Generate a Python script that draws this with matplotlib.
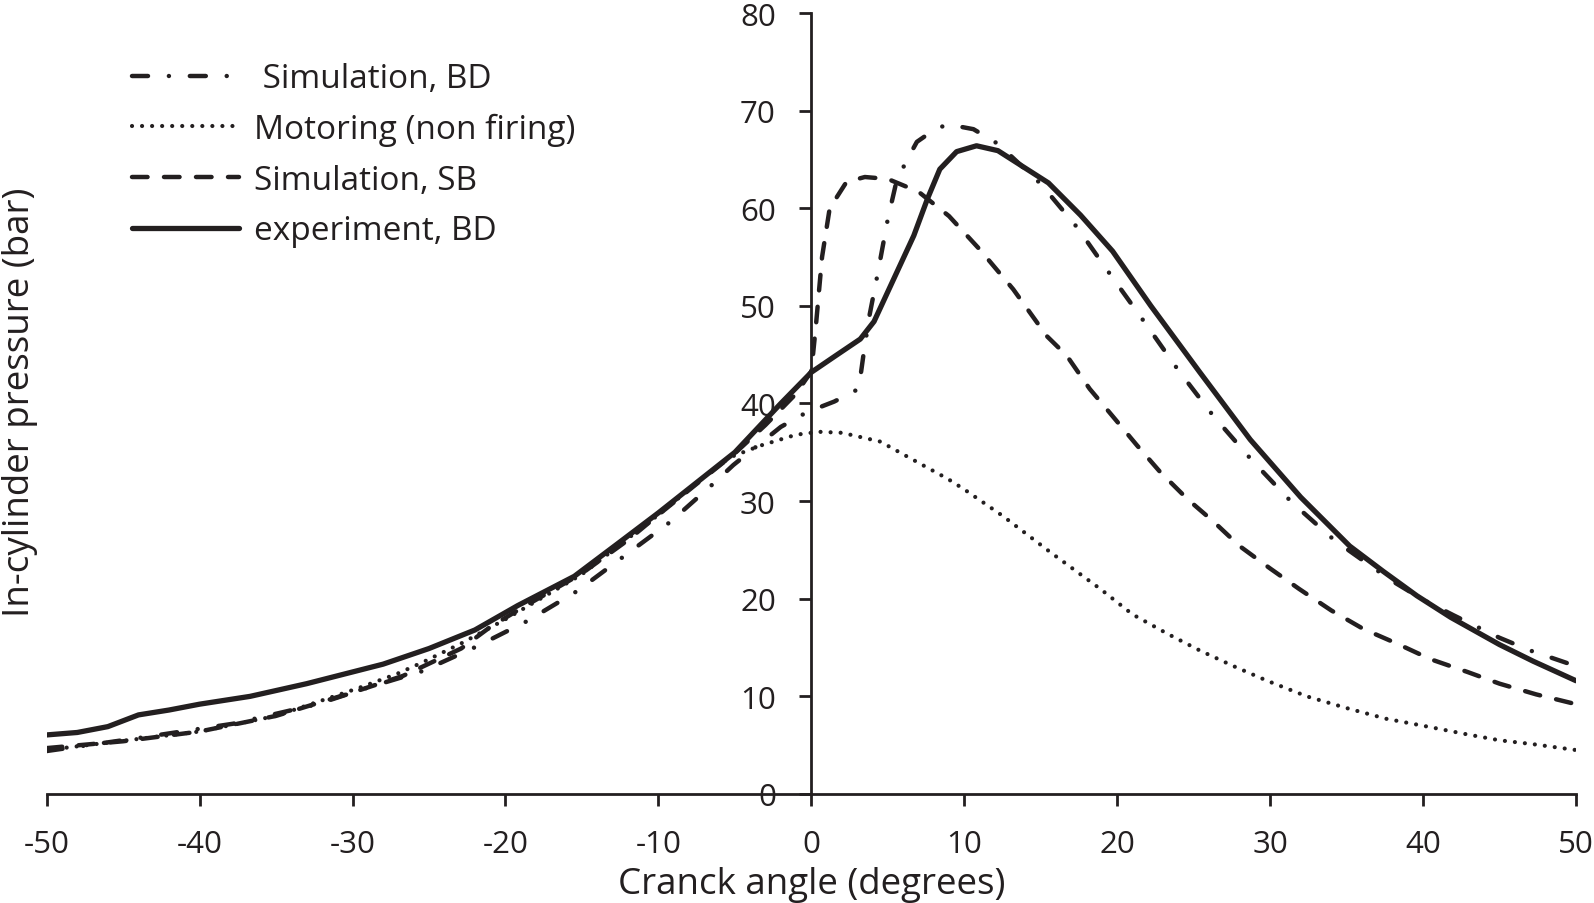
import matplotlib
matplotlib.use("Agg")
import matplotlib.pyplot as plt

# experiment, BD (solid)
exp_angle = [-50, -48, -46, -44, -42, -40, -36.7, -33, -30, -28, -25, -22, -19.2, -15.5,
             -12.7, -10, -7.5, -5, -2, 0, 1.5, 3.2, 4.1, 5.4, 6.7, 7.6, 8.4, 9.5,
             10.8, 12.2, 13.2, 15.5, 17.6, 19.7, 22.2, 25.4, 28.7, 32, 35.2, 37.4,
             39.6, 41.8, 45, 47.2, 50]
exp_pressure = [6.05, 6.3, 6.9, 8.1, 8.6, 9.2, 10.0, 11.3, 12.5, 13.3, 14.9, 16.8, 19.3,
                22.3, 25.6, 28.8, 31.9, 35.0, 40.0, 43.2, 44.8, 46.6, 48.4, 52.8, 57.2,
                61.0, 64.0, 65.8, 66.4, 65.9, 64.9, 62.6, 59.3, 55.6, 50.0, 43.2, 36.3,
                30.4, 25.4, 22.8, 20.3, 18.1, 15.3, 13.6, 11.6]

# Simulation, BD (dash-dot)
bd_angle = [-50, -43.7, -37.8, -32.3, -29, -25.4, -21.9, -18.6, -15.3, -12.3, -9.2,
            -6.4, -5.1, -2, -0.3, 1.5, 3.1, 3.4, 3.8, 4.3, 5, 5.5, 6.1, 6.9, 8, 8.9,
            10.6, 12.2, 15, 17.4, 19.6, 21.8, 24, 26.3, 28.8, 31.4, 34.2, 36, 38, 40,
            42, 45, 47, 50]
bd_pressure = [4.4, 5.8, 7.2, 9.2, 10.9, 12.6, 15.1, 17.7, 20.8, 24.3, 27.9, 31.8, 33.7,
               37.6, 39.1, 40.2, 41.5, 44.9, 49.0, 53.0, 58.9, 62.3, 64.5, 66.8, 68.0,
               68.6, 68.1, 66.6, 62.5, 58.0, 53.1, 48.3, 43.4, 38.7, 34.2, 29.9, 26.0,
               24.0, 21.8, 19.9, 18.3, 16.0, 14.7, 13.1]

# Simulation, SB (dashed)
sb_angle = [-50, -45, -40, -35, -30, -26.7, -22.9, -21, -19, -15, -12, -10, -7, -5, -3,
            -1, 0, 0.3, 0.7, 1.2, 2.3, 3.5, 5, 7, 9, 11, 13.2, 15.4, 16.7, 18.2, 19.7,
            21.3, 22.8, 24.6, 26.3, 28, 30, 31.9, 34, 36.1, 38.3, 40.5, 42.9, 45, 47.4,
            50]
sb_pressure = [4.7, 5.4, 6.4, 8.0, 10.4, 12.1, 14.9, 17.1, 19.0, 22.6, 26.0, 28.6, 32.4,
               34.9, 37.8, 41.0, 43.3, 48.0, 55.0, 60.0, 62.7, 63.2, 63.0, 61.7, 59.2,
               55.8, 51.7, 46.9, 44.9, 41.5, 38.7, 35.7, 33.0, 30.2, 27.9, 25.4, 23.1,
               21.0, 18.8, 16.9, 15.4, 13.8, 12.5, 11.3, 10.2, 9.2]

# Motoring (non firing) (dotted)
mot_angle = [-50, -40, -35, -29.7, -27.1, -25.4, -22.8, -20, -15, -10, -6.6, -5.3, -3.3,
             -1, 0.5, 2, 4.5, 7.5, 8.9, 10, 12.5, 15.6, 18.9, 21, 23.3, 25.4, 27.6,
             29.8, 32.4, 35, 37.6, 40.3, 42.9, 45, 47.2, 50]
mot_pressure = [4.5, 6.4, 8.0, 10.8, 12.3, 13.5, 15.5, 17.9, 22.5, 28.6, 33.0, 34.5,
                35.7, 36.8, 37.1, 37.0, 36.1, 33.5, 32.3, 31.2, 28.5, 24.8, 21.0, 18.4,
                16.4, 14.7, 13.1, 11.6, 10.0, 8.8, 7.7, 6.9, 6.1, 5.5, 5.1, 4.5]

x_ticks = [-50, -40, -30, -20, -10, 0, 10, 20, 30, 40, 50]
y_ticks = [0, 10, 20, 30, 40, 50, 60, 70, 80]

ink = "#231f20"
plt.rcParams["font.family"] = ["Open Sans", "DejaVu Sans"]
plt.rcParams["axes.unicode_minus"] = False

fig = plt.figure(figsize=(15.94, 9.04), dpi=100)
ax = fig.add_axes([0.0293, 0.1206, 0.9594, 0.8639])

ax.plot(bd_angle, bd_pressure, color=ink, lw=3.2, dashes=(3.6, 4.7, 0.01, 4.7),
        dash_capstyle="round", label=" Simulation, BD")
ax.plot(mot_angle, mot_pressure, color=ink, lw=3.0, dashes=(0.01, 2.4),
        dash_capstyle="round", label="Motoring (non firing)")
ax.plot(sb_angle, sb_pressure, color=ink, lw=3.2, dashes=(3.5, 3.7),
        dash_capstyle="round", label="Simulation, SB")
ax.plot(exp_angle, exp_pressure, color=ink, lw=3.8, solid_capstyle="round",
        solid_joinstyle="round", label="experiment, BD")

ax.set_xlim(-50, 50)
ax.set_ylim(0, 80)
ax.set_xticks(x_ticks)
ax.set_yticks(y_ticks)

ax.spines["left"].set_position(("data", 0))
ax.spines["right"].set_visible(False)
ax.spines["top"].set_visible(False)
for side in ("left", "bottom"):
    ax.spines[side].set_linewidth(2.0)
    ax.spines[side].set_color(ink)

ax.tick_params(axis="both", direction="out", length=8.5, width=2.0, color=ink,
               labelsize=22.5, labelcolor=ink, pad=17)

ax.set_xlabel("Cranck angle (degrees)", fontsize=26.5, color=ink)
ax.xaxis.set_label_coords(0.5, -0.092)
ax.set_ylabel("In-cylinder pressure (bar)", fontsize=26.5, color=ink)
ax.yaxis.set_label_coords(-0.006, 0.503)

ax.legend(loc="upper left", bbox_to_anchor=(0.0558, 0.937), frameon=False,
          borderaxespad=0, borderpad=0, fontsize=24, handlelength=3.2,
          handletextpad=0.45, labelspacing=0.53, labelcolor=ink)

fig.savefig("out.png", dpi=100, facecolor="white")
